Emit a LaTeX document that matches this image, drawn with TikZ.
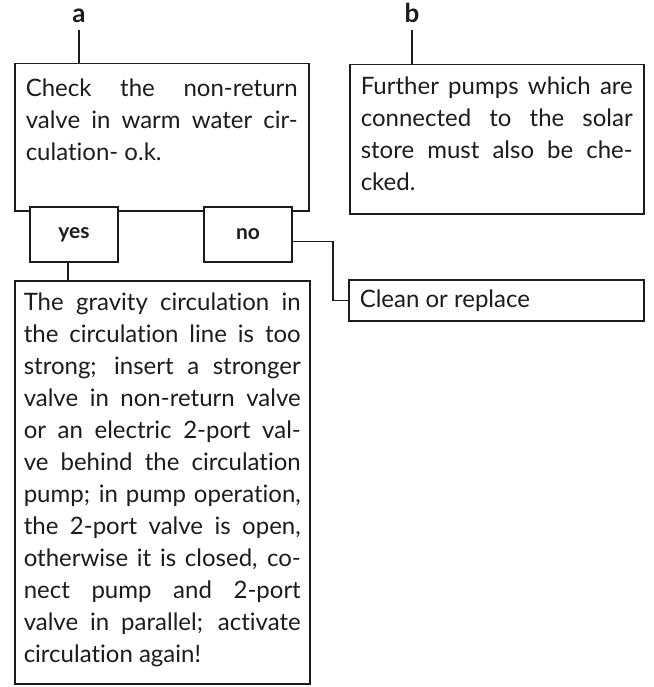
\documentclass[tikz,border=0pt]{standalone}
\usepackage{fontspec}
\setmainfont{Lato}[Ligatures=NoCommon]
\usetikzlibrary{positioning,calc}
\definecolor{ink}{HTML}{1C1C1C}
\hyphenpenalty=10000
\tikzset{box/.style={draw=ink,line width=1.5pt,align=justify,text=ink,font=\fontsize{24}{32}\selectfont,inner xsep=11pt,inner ysep=0pt,anchor=north west}, tag/.style={draw=ink,line width=1.5pt,fill=white,text=ink,font=\bfseries\fontsize{21}{24}\selectfont,minimum width=88pt,minimum height=55pt}, lbl/.style={text=ink,font=\bfseries\fontsize{26}{28}\selectfont,inner xsep=0pt,inner ysep=7pt,text depth=0pt,anchor=base}, wire/.style={draw=ink,line width=1.5pt}}

\begin{document}
\begin{tikzpicture}[x=1pt,y=1pt]
\useasboundingbox (0,0) rectangle (653,-687);
\node[box,text width=272pt,text height=33pt,text depth=114pt](chk) at (14,-63){Check the non-return\linebreak valve in warm water cir-\linebreak culation- o.k.};
\node[box,text width=272pt,text height=30pt,text depth=119pt](pumps) at (349,-64){Further pumps which are\linebreak connected to the solar\linebreak store must also be che-\linebreak cked.};
\node[box,text width=277pt,inner xsep=9pt,text height=30pt,text depth=373pt](fix) at (14,-280){The gravity circulation in\linebreak the circulation line is too\linebreak strong; insert a stronger\linebreak valve in non-return valve\linebreak or an electric 2-port val-\linebreak ve behind the circulation\linebreak pump; in pump operation,\linebreak the 2-port valve is open,\linebreak otherwise it is closed, co-\linebreak nect pump and 2-port\linebreak valve in parallel; activate\linebreak circulation again!};
\node[box,text width=273pt,text height=28pt,text depth=13pt](clean) at (348,-279){Clean or replace};
\node[tag](yes) at (74,-234.5){yes};
\node[tag](no) at (248,-234.5){no};
\node[lbl](la) at (79,-23){a};
\node[lbl](lb) at (412,-23){b};
\draw[wire](la.south)--(la.south|-chk.north);
\draw[wire](lb.south)--(lb.south|-pumps.north);
\draw[wire]([xshift=-6pt]yes.south)--([xshift=-6pt]yes.south|-fix.north);
\draw[wire]([yshift=-7pt]no.east)--++(40,0)|-(clean.west);
\end{tikzpicture}
\end{document}
